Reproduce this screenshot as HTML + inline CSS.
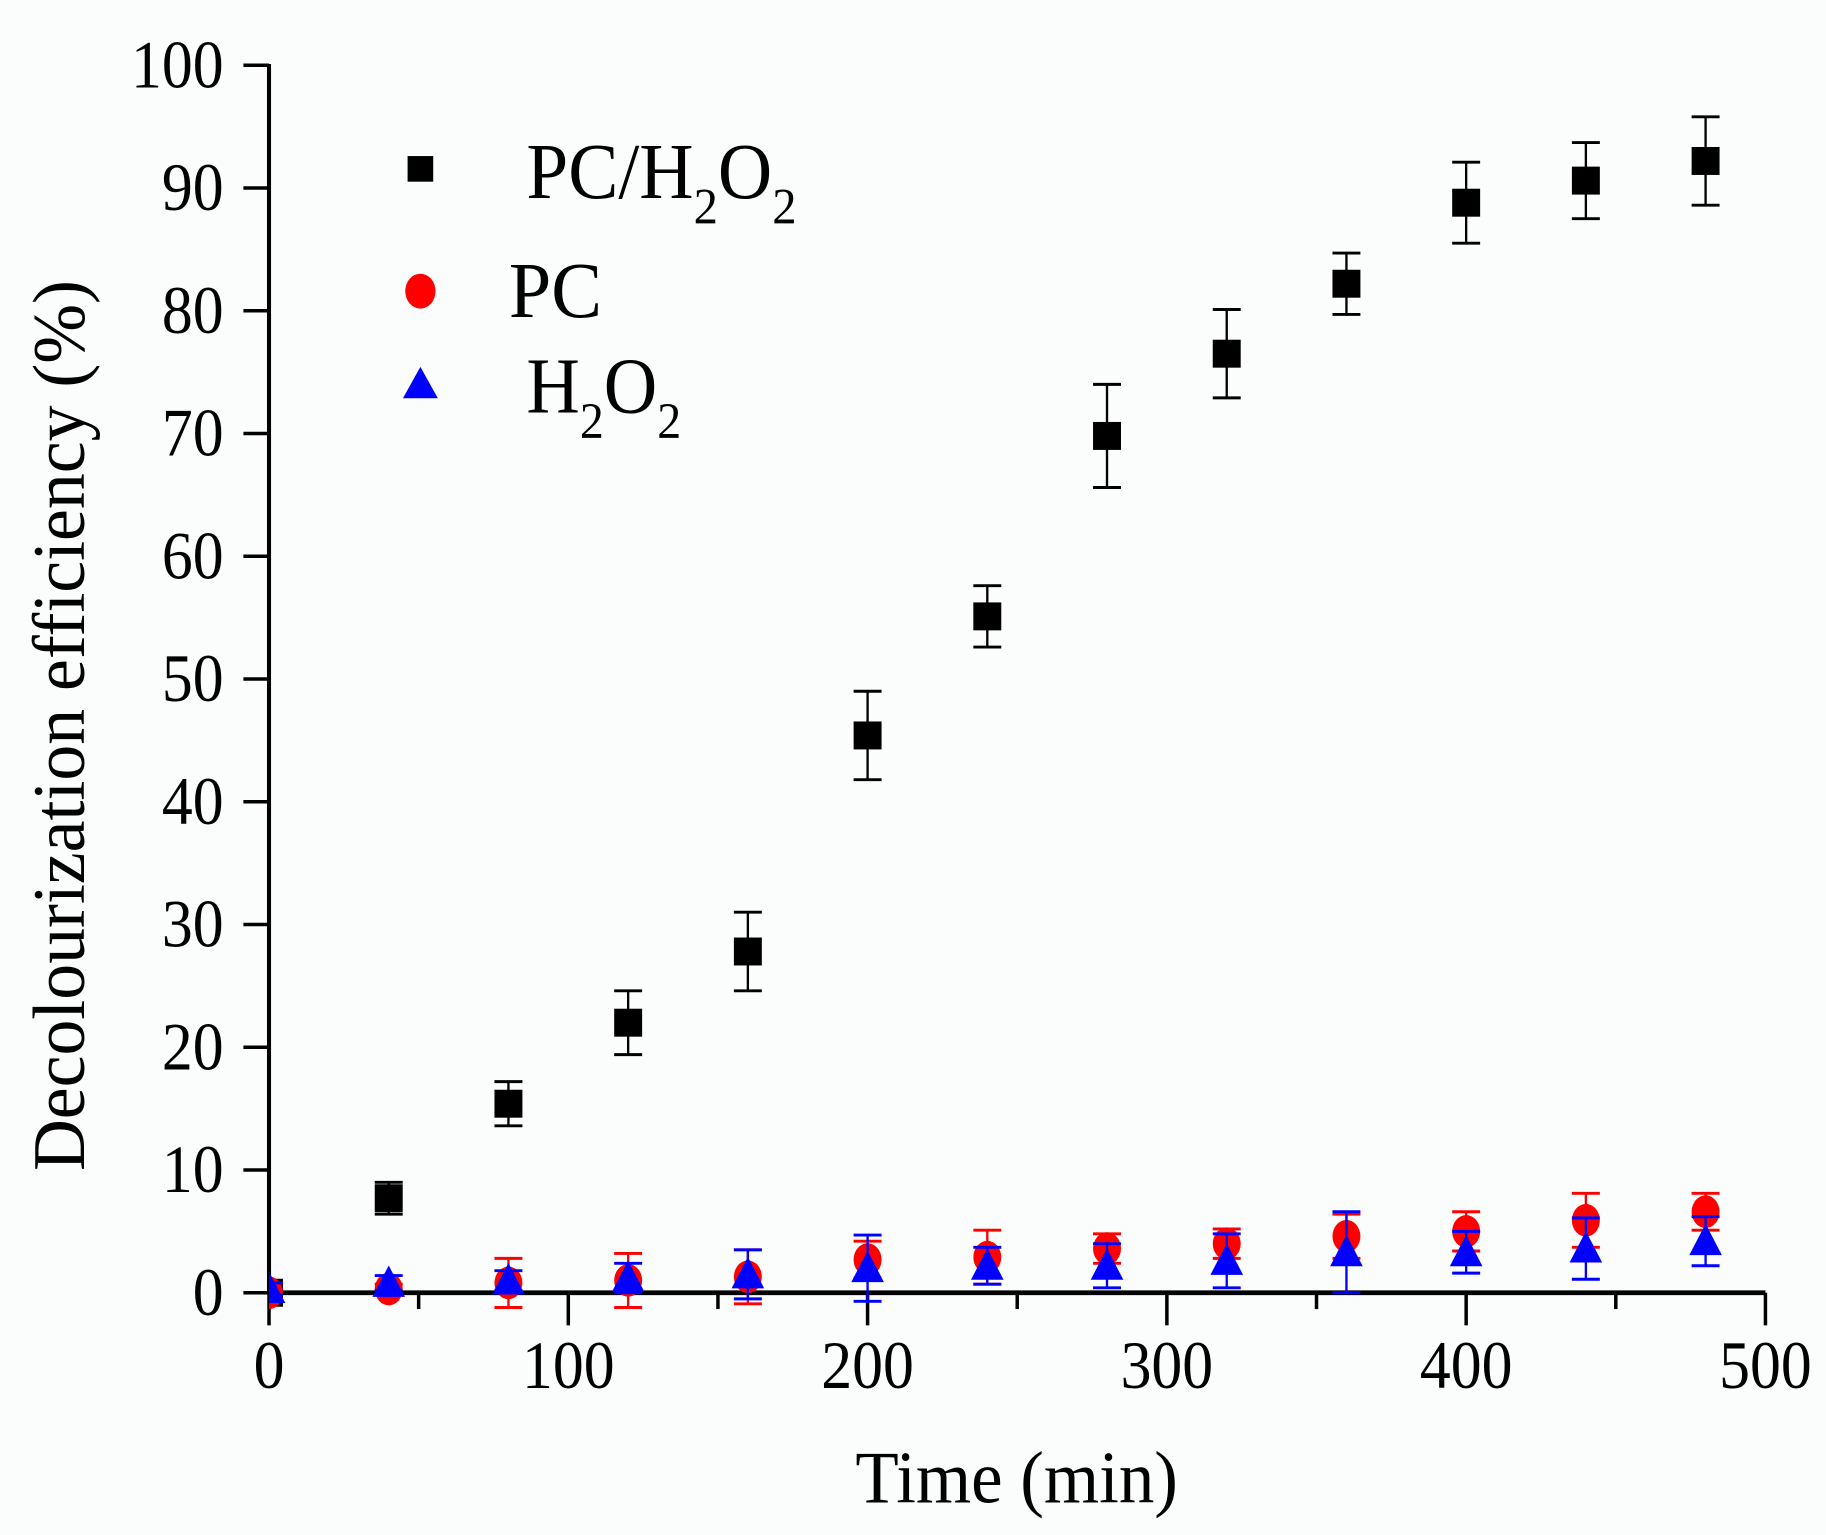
<!DOCTYPE html>
<html><head><meta charset="utf-8"><style>
html,body{margin:0;padding:0;background:#fbfcfc;}
svg{display:block;}
text{font-family:"Liberation Serif",serif;fill:#000;}
</style></head><body>
<svg id="chart" width="1826" height="1535" viewBox="0 0 1568 1318" preserveAspectRatio="none" xmlns="http://www.w3.org/2000/svg">
<defs><clipPath id="plotclip"><rect x="231" y="0" width="1337" height="1318"/></clipPath></defs>
<rect x="0" y="0" width="1568" height="1318" fill="#fbfcfc"/>
<g id="axes"></g>
<g id="series" clip-path="url(#plotclip)"></g>
<g id="legend">
  <rect x="350" y="134" width="22" height="22" fill="#000"/>
  <text x="452" y="170" font-size="68" textLength="232" lengthAdjust="spacingAndGlyphs">PC/H<tspan font-size="44" dy="22">2</tspan><tspan dy="-22">O</tspan><tspan font-size="44" dy="22">2</tspan></text>
  <ellipse cx="361" cy="250" rx="13" ry="15" fill="#f00"/>
  <text x="437" y="272" font-size="68" textLength="80" lengthAdjust="spacingAndGlyphs">PC</text>
  <polygon points="361,315 346,342 376,342" fill="#00f"/>
  <text x="452" y="354" font-size="68" textLength="133" lengthAdjust="spacingAndGlyphs">H<tspan font-size="44" dy="22">2</tspan><tspan dy="-22">O</tspan><tspan font-size="44" dy="22">2</tspan></text>
</g>
<text x="873" y="1290" font-size="64" text-anchor="middle" textLength="277" lengthAdjust="spacingAndGlyphs">Time (min)</text>
<text transform="translate(72,623) rotate(-90)" font-size="64" text-anchor="middle" textLength="765" lengthAdjust="spacingAndGlyphs">Decolourization efficiency (%)</text>
</svg>
<script>
const times = [0,40,80,120,160,200,240,280,320,360,400,440,480];
const pcH2o2 = [0,7.7,15.4,22,27.8,45.4,55.1,69.8,76.5,82.2,88.8,90.6,92.2];
const pcH2o2Err = [0,1.3,1.8,2.6,3.2,3.6,2.5,4.2,3.6,2.5,3.3,3.1,3.6];
const pc = [0,0.3,0.8,1.0,1.3,2.7,2.9,3.6,4.0,4.6,5.0,5.9,6.6];
const pcErr = [0,0.4,2.0,2.2,2.2,1.5,2.2,1.2,1.2,1.8,1.6,2.2,1.5];
const h2o2 = [0.3,0.8,1.0,1.2,1.5,2.0,2.2,2.2,2.6,3.3,3.3,3.6,4.2];
const h2o2Err = [0.5,0.6,0.8,1.2,2.0,2.7,1.5,1.8,2.2,3.3,1.7,2.5,2.0];
const xTicks = [0,100,200,300,400,500];
const yTicks = [0,10,20,30,40,50,60,70,80,90,100];

const NS = "http://www.w3.org/2000/svg";
const X0=231, X1=1516, Y0=1110, Y1=56;
function sx(v){return X0+(v/500)*(X1-X0);}
function sy(v){return Y0-(v/100)*(Y0-Y1);}
function mk(tag, attrs, parent){const e=document.createElementNS(NS,tag);for(const k in attrs)e.setAttribute(k,attrs[k]);parent.appendChild(e);return e;}

const axes=document.getElementById('axes');
let l=mk('line',{x1:X0,y1:Y0,x2:X1,y2:Y0,stroke:'#000','stroke-width':4},axes);


l=mk('line',{x1:X0,y1:Y0+1,x2:X0,y2:Y1-1,stroke:'#000','stroke-width':3.5},axes);


for(let v=0; v<=500; v+=50){
  const major = v%100===0;
  const t=mk('line',{x1:sx(v),y1:Y0,x2:sx(v),y2:Y0+(major?28:14),stroke:'#000','stroke-width':3},axes);
  
  
}
xTicks.forEach(v=>{
  const s=String(v);
  const t=mk('text',{x:sx(v),y:1192,'font-size':58,'text-anchor':'middle',textLength:s.length*26.5,lengthAdjust:'spacingAndGlyphs'},axes);
  t.textContent=s;
  
  
});
yTicks.forEach(v=>{
  const t=mk('line',{x1:X0,y1:sy(v),x2:X0-22,y2:sy(v),stroke:'#000','stroke-width':3},axes);
  
  
  const s=String(v);
  const lab=mk('text',{x:192,y:sy(v)+19,'font-size':58,'text-anchor':'end',textLength:s.length*26.5,lengthAdjust:'spacingAndGlyphs'},axes);
  lab.textContent=s;
  
  
});

const series=document.getElementById('series');
function errbar(g,x,y,e,color){
  if(e<=0) return;
  mk('line',{x1:sx(x),y1:sy(y+e),x2:sx(x),y2:sy(y-e),stroke:color,'stroke-width':2},g);
  mk('line',{x1:sx(x)-12,y1:sy(y+e),x2:sx(x)+12,y2:sy(y+e),stroke:color,'stroke-width':2.5},g);
  mk('line',{x1:sx(x)-12,y1:sy(y-e),x2:sx(x)+12,y2:sy(y-e),stroke:color,'stroke-width':2.5},g);
}
function drawSeries(name, vals, errs, color, shape){
  const g=mk('g',{},series);
  
  
  times.forEach((t,i)=>{
    errbar(g,t,vals[i],errs[i],color);
    const cx=sx(t), cy=sy(vals[i]);
    let m;
    if(shape==='square') m=mk('rect',{x:cx-12,y:cy-12,width:24,height:24,fill:color},g);
    else if(shape==='circle') m=mk('ellipse',{cx:cx,cy:cy,rx:12,ry:14,fill:color},g);
    else m=mk('polygon',{points:`${cx},${cy-15} ${cx-14},${cy+12} ${cx+14},${cy+12}`,fill:color},g);
    
    
  });
}
drawSeries('pc-h2o2',pcH2o2,pcH2o2Err,'#000','square');
drawSeries('pc',pc,pcErr,'#f00','circle');
drawSeries('h2o2',h2o2,h2o2Err,'#00f','triangle');
</script>
</body></html>
